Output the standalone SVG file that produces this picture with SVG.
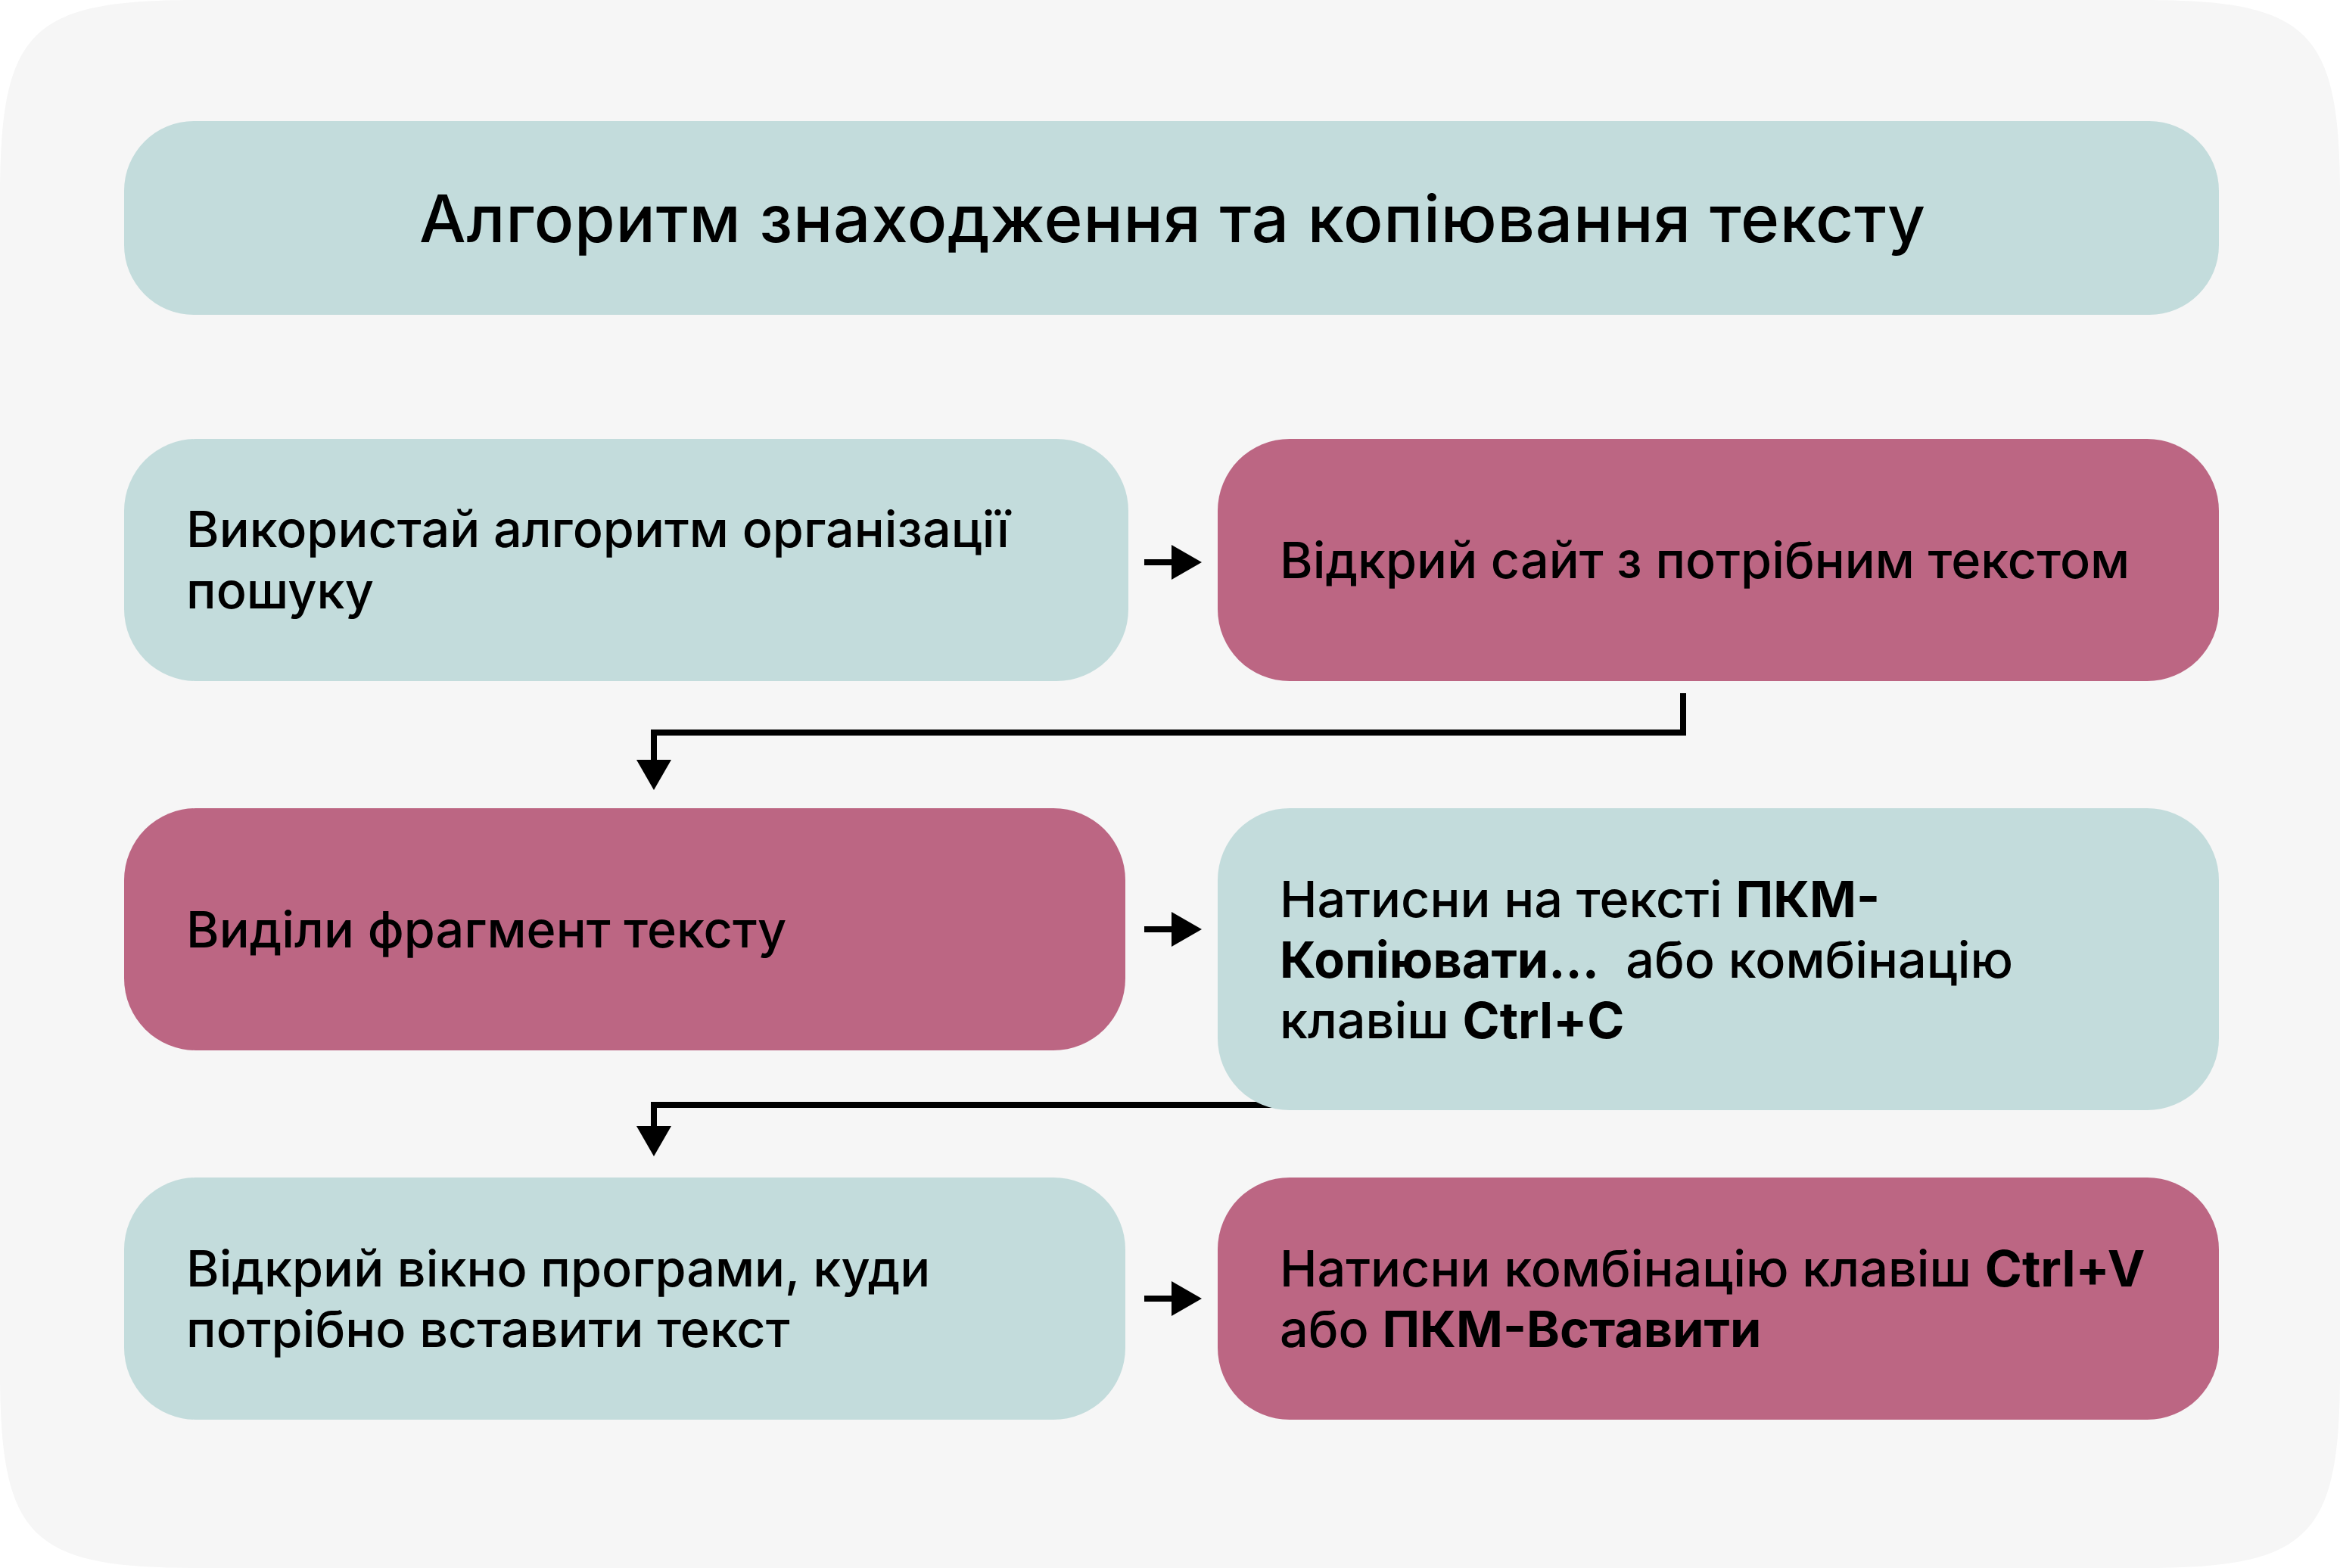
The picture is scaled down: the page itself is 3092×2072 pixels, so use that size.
<svg xmlns="http://www.w3.org/2000/svg" width="3092" height="2072" viewBox="0 0 3092 2072">
<defs>
<style>
.teal{fill:#C3DCDC}
.pink{fill:#BC6683}
.t{font-family:Inter,"Noto Sans","Liberation Sans",sans-serif;font-size:66.5px;font-weight:500;fill:#000;white-space:pre}
.title{font-family:Inter,"Noto Sans","Liberation Sans",sans-serif;font-size:87px;font-weight:500;fill:#000;text-anchor:middle}
.b{font-weight:700}
.conn{fill:none;stroke:#000;stroke-width:8}
</style>
<marker id="ah" markerUnits="userSpaceOnUse" markerWidth="40" markerHeight="46" refX="0" refY="23" orient="auto" viewBox="0 0 40 46">
<path d="M0,0 L40,23 L0,46 Z" fill="#000"/>
</marker>
</defs>
<rect width="3092" height="2072" fill="#FFFFFF"/>
<path d="M0,260 C0,40 40,0 260,0 H2832 C3052,0 3092,40 3092,260 V1812 C3092,2032 3052,2072 2832,2072 H260 C40,2072 0,2032 0,1812 Z" fill="#F6F6F6"/>
<g id="connectors">
<path class="conn" d="M2224,916 V968 H864 V1004" marker-end="url(#ah)"/>
<path class="conn" d="M2224,1460 H864 V1488" marker-end="url(#ah)"/>
<path class="conn" d="M1512,743 H1548" marker-end="url(#ah)"/>
<path class="conn" d="M1512,1228 H1548" marker-end="url(#ah)"/>
<path class="conn" d="M1512,1716 H1548" marker-end="url(#ah)"/>
</g>
<g id="title">
<rect class="teal" x="164" y="160" width="2768" height="256" rx="92"/>
<text class="title" x="1549" y="320" textLength="1990" lengthAdjust="spacing">Алгоритм знаходження та копіювання тексту</text>
</g>
<g id="node1">
<rect class="teal" x="164" y="580" width="1327" height="320" rx="95"/>
<text class="t" x="246" y="723">Використай алгоритм організації</text>
<text class="t" x="246" y="804">пошуку</text>
</g>
<g id="node2">
<rect class="pink" x="1609" y="580" width="1323" height="320" rx="95"/>
<text class="t" x="1691" y="764">Відкрий сайт з потрібним текстом</text>
</g>
<g id="node3">
<rect class="pink" x="164" y="1068" width="1323" height="320" rx="95"/>
<text class="t" x="246" y="1252">Виділи фрагмент тексту</text>
</g>
<g id="node4">
<rect class="teal" x="1609" y="1068" width="1323" height="399" rx="95"/>
<text class="t" x="1691" y="1212">Натисни на тексті <tspan class="b">ПКМ-</tspan></text>
<text class="t" x="1691" y="1292"><tspan class="b">Копіювати...</tspan>  або комбінацію</text>
<text class="t" x="1691" y="1372">клавіш <tspan class="b">Ctrl+C</tspan></text>
</g>
<g id="node5">
<rect class="teal" x="164" y="1556" width="1323" height="320" rx="95"/>
<text class="t" x="246" y="1700">Відкрий вікно програми, куди</text>
<text class="t" x="246" y="1780">потрібно вставити текст</text>
</g>
<g id="node6">
<rect class="pink" x="1609" y="1556" width="1323" height="320" rx="95"/>
<text class="t" x="1691" y="1700">Натисни комбінацію клавіш <tspan class="b">Ctrl+V</tspan></text>
<text class="t" x="1691" y="1780">або <tspan class="b">ПКМ-Вставити</tspan></text>
</g>
</svg>
